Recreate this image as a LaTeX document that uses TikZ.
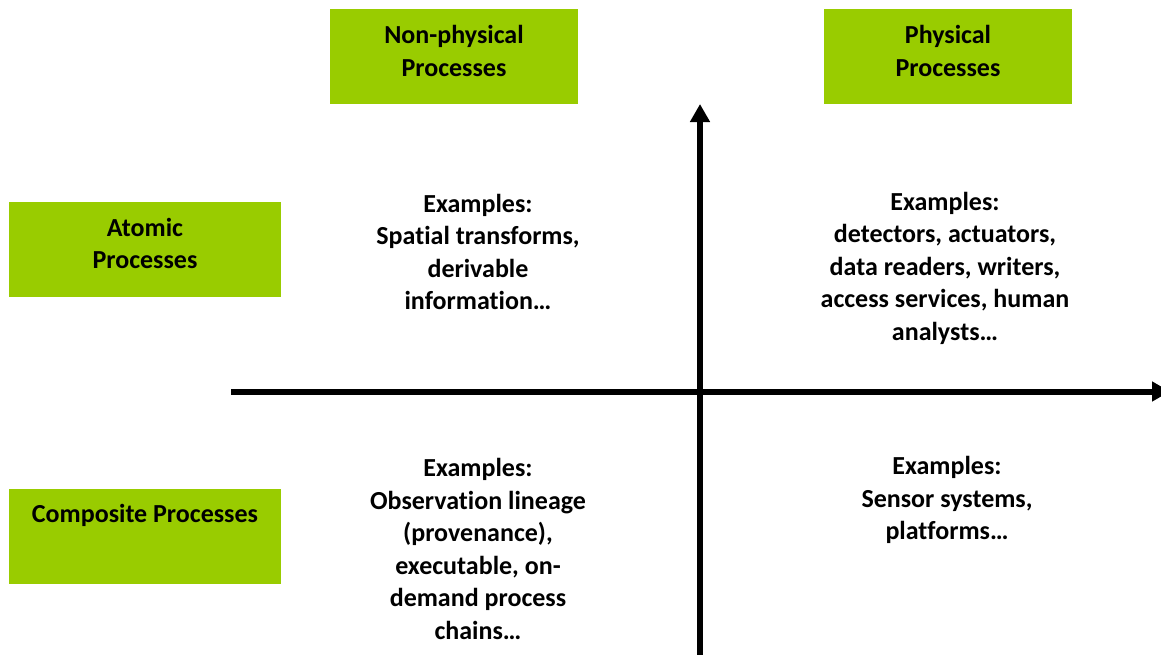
\documentclass[tikz,border=0pt]{standalone}
\usepackage{fontspec}
\setmainfont[Ligatures=NoCommon]{Carlito}
\usetikzlibrary{arrows.meta}
\definecolor{lime}{HTML}{99CC00}
\tikzset{
  catbox/.style={fill=lime, draw=none, minimum width=248pt, minimum height=95pt, inner sep=0pt},
  rowbox/.style={catbox, minimum width=272pt},
  boxtext/.style={align=center, font=\bfseries\fontsize{26}{32.5}\selectfont, inner sep=0pt},
  example/.style={align=center, font=\bfseries\fontsize{26}{32.5}\selectfont, inner sep=0pt},
  axis/.style={line width=6pt, -{Triangle[length=18pt, width=19pt]}}
}
\begin{document}
\begin{tikzpicture}[x=1pt, y=-1pt]
\useasboundingbox (0,0) rectangle (1161,654);
% column headers
\node[catbox] (nonphys) at (454,56.5) {};
\node[boxtext] (nonphyst) at ([yshift=5.5pt]nonphys.center) {Non-physical\\Processes};
\node[catbox] (phys) at (948,56.5) {};
\node[boxtext] (physt) at ([yshift=5.5pt]phys.center) {Physical\\Processes};
% row headers
\node[rowbox] (atomic) at (145,249) {};
\node[boxtext] (atomict) at ([yshift=5.5pt]atomic.center) {Atomic\\Processes};
\node[rowbox] (composite) at (145,536.5) {};
\node[boxtext] (compositet) at ([yshift=21.5pt]composite.center) {Composite Processes};
% axes
\coordinate (hstart) at (231,391.5);
\coordinate (hend) at (1170,391.5);
\coordinate (vstart) at (700,660);
\coordinate (vend) at (700,104);
\draw[axis] (hstart) -- (hend);
\draw[axis] (vstart) -- (vend);
% quadrant examples
\node[example] (ex1) at (478,252) {Examples:\\Spatial transforms,\\derivable\\information\dots};
\node[example] (ex2) at (945,268) {Examples:\\detectors, actuators,\\data readers, writers,\\access services, human\\analysts\dots};
\node[example] (ex3) at (478,549) {Examples:\\Observation lineage\\(provenance),\\executable, on-\\demand process\\chains\dots};
\node[example] (ex4) at (947,500) {Examples:\\Sensor systems,\\platforms\dots};
\end{tikzpicture}
\end{document}
